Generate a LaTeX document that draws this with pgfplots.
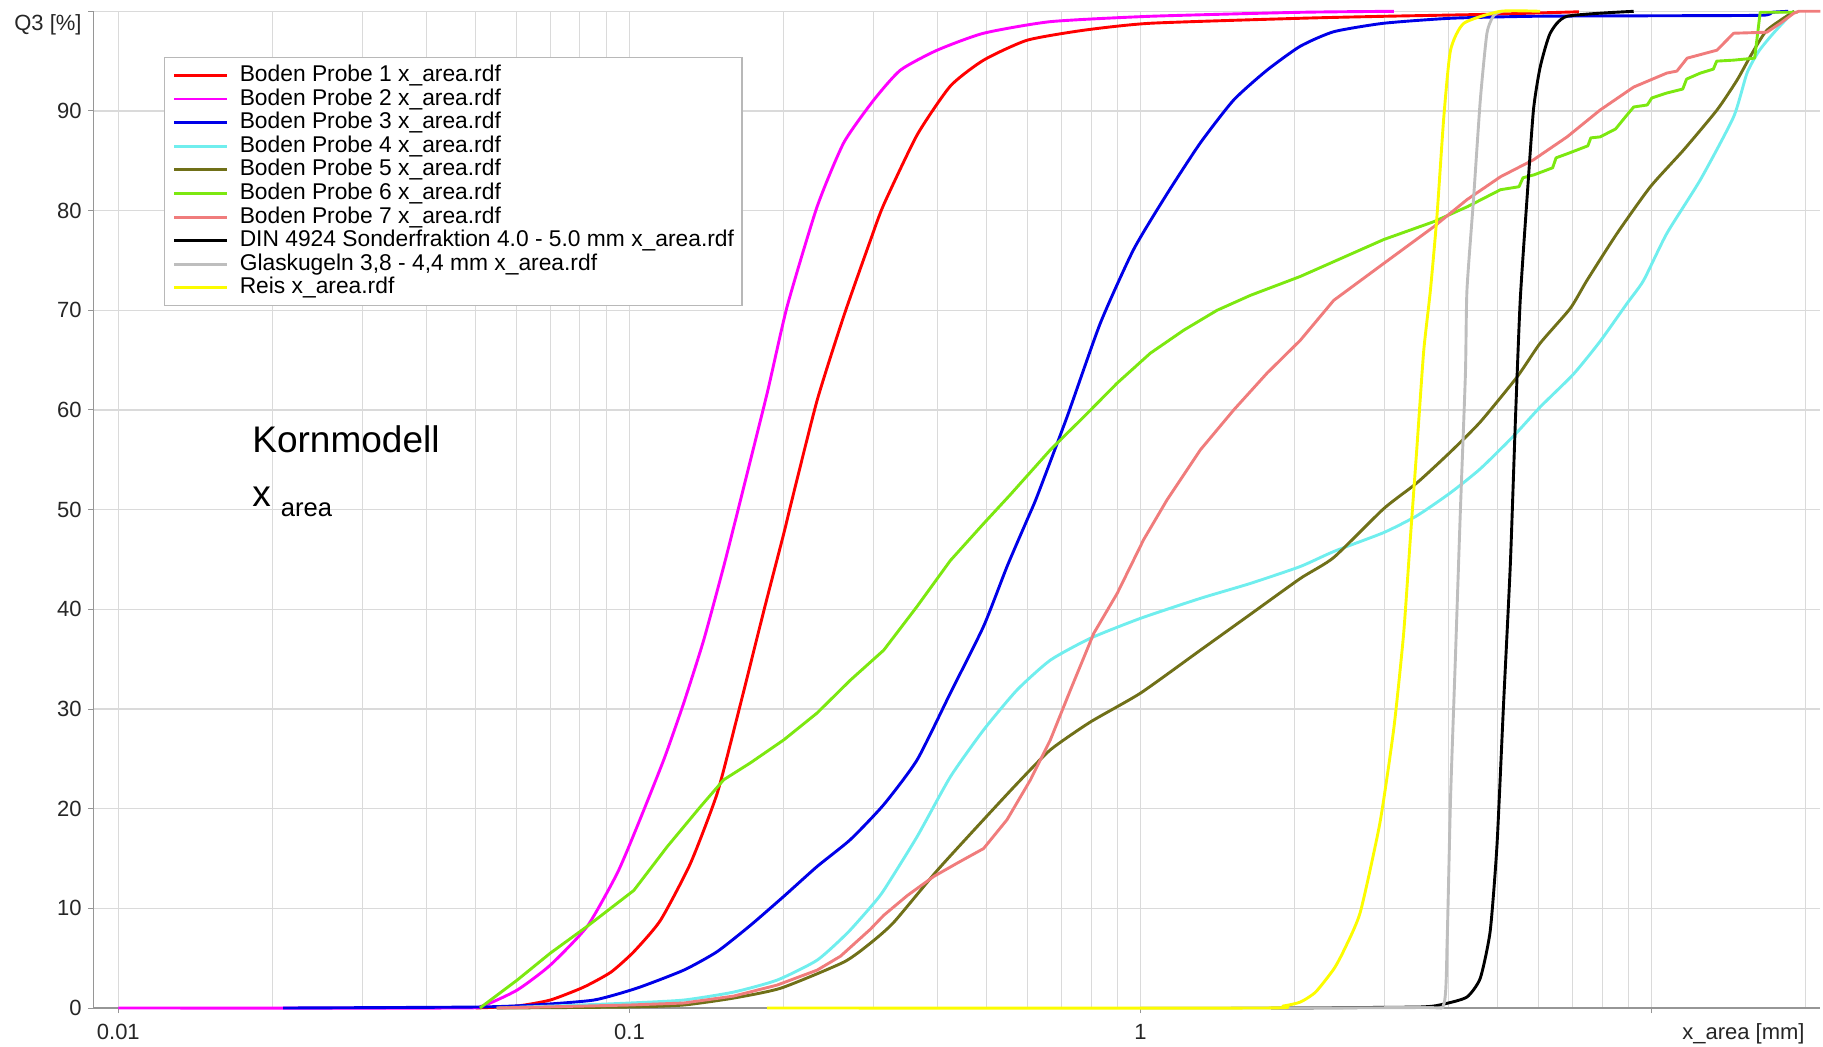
\documentclass[border=0pt]{standalone}
\usepackage{fontspec}
\setmainfont{Liberation Sans}
\usepackage{pgfplots}
\pgfplotsset{compat=1.18}

\definecolor{cP1}{RGB}{255,0,0}
\definecolor{cP2}{RGB}{255,0,255}
\definecolor{cP3}{RGB}{0,0,232}
\definecolor{cP4}{RGB}{112,238,238}
\definecolor{cP5}{RGB}{112,112,24}
\definecolor{cP6}{RGB}{124,232,16}
\definecolor{cP7}{RGB}{240,124,124}
\definecolor{cDIN}{RGB}{0,0,0}
\definecolor{cGlas}{RGB}{190,190,190}
\definecolor{cReis}{RGB}{252,252,0}
\definecolor{gridc}{RGB}{218,218,218}
\definecolor{axisc}{RGB}{150,150,150}

\begin{document}
\begin{tikzpicture}
\begin{axis}[
  xmode=log,
  scale only axis,
  width=863.5pt, height=498.35pt,
  xmin=0.008934, xmax=21.37,
  ymin=0, ymax=100,
  clip=false,
  axis x line*=bottom, axis y line*=left,
  axis line style={axisc, line width=0.6pt},
  xtick={0.01,0.1,1,10},
  xticklabels={0.01,0.1,1,{}},
  minor xtick={0.02,0.03,0.04,0.05,0.06,0.07,0.08,0.09,
               0.2,0.3,0.4,0.5,0.6,0.7,0.8,0.9,
               2,3,4,5,6,7,8,9,20},
  ytick={0,10,...,100},
  yticklabels={0,10,20,30,40,50,60,70,80,90,{}},
  grid=both,
  major grid style={gridc, line width=0.55pt},
  minor grid style={gridc, line width=0.55pt},
  tick align=outside,
  major tick length=2.5pt,
  minor tick length=0pt,
  tick style={axisc, line width=0.5pt},
  xticklabel style={font=\fontsize{11}{13}\selectfont, text=black!85, inner sep=0pt, anchor=base, yshift=-13.25pt},
  yticklabel style={font=\fontsize{11}{13}\selectfont, text=black!85, inner sep=0pt, anchor=east, xshift=-3.15pt},
  legend cell align=left,
  legend style={at={(0.0411,0.9541)}, anchor=north west,
    draw=black!28, fill=white, line width=0.6pt,
    font=\fontsize{11.4}{13.7}\selectfont,
    inner xsep=4pt, inner ysep=3.4pt,
    row sep=0.8pt, column sep=5.5pt,
    nodes={inner sep=0pt, text height=8.5pt, text depth=2.5pt}},
  legend image code/.code={\draw[#1] (0pt,0pt) -- (26.5pt,0pt);},
  every axis plot/.append style={line width=1.45pt, line join=round},
  curve/.style={smooth, tension=0.35},
]

% Boden Probe 1
\addplot[cP1, curve] coordinates {
(0.050,0) (0.0603,0.2) (0.070,0.8) (0.0814,2.1) (0.092,3.6) (0.102,5.65)
(0.115,8.8) (0.1316,14.5) (0.1484,21.5) (0.1625,29.2) (0.1833,39.9)
(0.2004,47.6) (0.208,51) (0.233,61) (0.2625,69.4) (0.296,77.0)
(0.3144,80.6) (0.3655,87.6) (0.4245,92.5) (0.493,95.1)
(0.60,97.1) (0.774,98.1) (1.045,98.8) (2.054,99.3) (3.0,99.5) (4.8,99.7)
(7.2,99.95)};
\addlegendentry{Boden Probe 1 x\_area.rdf}

% Boden Probe 2
\addplot[cP2, curve] coordinates {
(0.01,0) (0.045,0) (0.0515,0.2) (0.0603,1.8) (0.070,4.3) (0.0827,8.2)
(0.0946,13.5) (0.1035,18.2) (0.1167,24.9) (0.1277,30.6) (0.1397,36.9)
(0.1529,44.3) (0.165,51) (0.186,61.7) (0.2035,70.4) (0.2329,80.4)
(0.2625,86.8) (0.3006,91.1) (0.339,94.1) (0.40,96.1) (0.493,97.8)
(0.666,98.96) (1.045,99.5) (2.054,99.9) (3.13,100)};
\addlegendentry{Boden Probe 2 x\_area.rdf}

% Boden Probe 3
\addplot[cP3, curve] coordinates {
(0.021,0) (0.05,0.1) (0.065,0.3) (0.0852,0.8) (0.1035,2.0) (0.1277,3.8)
(0.1484,5.65) (0.1725,8.3) (0.2004,11.2) (0.2329,14.2) (0.2706,16.9)
(0.3144,20.4) (0.3655,24.9) (0.4245,31.6) (0.493,38.3)
(0.548,44.3) (0.60,49.0) (0.627,51.3) (0.718,59.3) (0.834,68.7)
(0.969,76.1) (1.127,81.7) (1.309,86.8) (1.521,91.1) (1.768,94.1)
(2.054,96.5) (2.387,97.95) (2.99,98.8) (4.04,99.3) (5.87,99.5)
(10,99.55) (16.4,99.6) (17.2,99.9) (18.5,100)};
\addlegendentry{Boden Probe 3 x\_area.rdf}

% Boden Probe 4
\addplot[cP4, curve] coordinates {
(0.055,0) (0.08,0.3) (0.10,0.5) (0.1277,0.8) (0.16,1.6) (0.1945,2.8)
(0.2329,4.8) (0.2666,7.5) (0.296,10.1) (0.3144,11.8) (0.3655,17.2)
(0.4245,23.2) (0.493,27.9) (0.573,31.9) (0.666,34.9) (0.798,37.1)
(1.0,39.1) (1.309,41.1) (1.64,42.6) (2.054,44.3) (2.387,45.8)
(2.99,47.7) (3.475,49.4) (4.04,51.7) (4.62,54.1) (5.37,57.4)
(6.05,60.3) (7.03,63.6) (7.93,66.9) (8.95,70.7) (9.64,73.0)
(10.7,77.7) (12.45,83.1) (14.46,89.4) (15.36,93.8) (16.2,96.0)
(17.3,97.8) (18.95,100)};
\addlegendentry{Boden Probe 4 x\_area.rdf}

% Boden Probe 5
\addplot[cP5, curve] coordinates {
(0.055,0) (0.10,0.1) (0.1277,0.3) (0.16,1.0) (0.198,2.0) (0.2625,4.6)
(0.296,6.5) (0.329,8.6) (0.40,13.8) (0.493,18.9) (0.573,22.5)
(0.666,25.9) (0.798,28.7) (1.0,31.6) (1.309,35.9) (1.64,39.5)
(2.054,43.1) (2.387,45.2) (2.99,50.1) (3.475,52.7) (4.04,55.8)
(4.62,58.8) (5.45,63.3) (6.05,66.7) (6.93,70.2) (7.47,73.0)
(8.55,77.7) (9.94,82.4) (11.55,86.1) (13.42,90.1) (14.69,93.1)
(15.6,95.5) (16.8,98.1) (19.0,100)};
\addlegendentry{Boden Probe 5 x\_area.rdf}

% Boden Probe 6 (stepped at the coarse end)
\addplot[cP6] coordinates {
(0.051,0) (0.0603,2.8) (0.070,5.5) (0.0827,8.2) (0.102,11.8) (0.1186,16.2)
(0.1377,20.2) (0.1529,22.9) (0.1725,24.6) (0.2004,26.9) (0.2329,29.6)
(0.2706,32.9) (0.3144,35.9) (0.3655,40.3) (0.4245,44.9) (0.493,48.6)
(0.556,51.5) (0.666,56.0) (0.774,59.3) (0.90,62.7) (1.045,65.7)
(1.214,68.0) (1.411,70.0) (1.64,71.5) (2.054,73.4) (2.99,77.1)
(3.75,78.9) (4.36,80.4) (5.06,82.1) (5.5,82.4) (5.6,83.3) (5.89,83.6)
(6.4,84.3) (6.5,85.3) (6.83,85.7) (7.5,86.5) (7.6,87.3) (7.93,87.4)
(8.5,88.2) (8.88,89.4) (9.22,90.4) (9.8,90.6) (10.0,91.3) (10.7,91.8)
(11.5,92.2) (11.7,93.2) (12.45,93.8) (13.2,94.2) (13.4,95.0) (14.46,95.1)
(15.9,95.3) (16.3,99.9) (19.3,99.9)};
\addlegendentry{Boden Probe 6 x\_area.rdf}

% Boden Probe 7 (stepped at the coarse end)
\addplot[cP7] coordinates {
(0.055,0) (0.10,0.3) (0.1277,0.5) (0.16,1.2) (0.1945,2.3) (0.2329,3.8)
(0.2588,5.2) (0.296,7.9) (0.3144,9.3) (0.35,11.3) (0.394,13.2)
(0.44,14.6) (0.493,16.0) (0.548,18.9)
(0.609,22.9) (0.666,26.9) (0.729,31.9) (0.81,37.6) (0.90,41.6)
(1.014,47.0) (1.127,51.0) (1.309,56.0) (1.521,60.0) (1.768,63.7)
(2.054,67.0) (2.387,71.0) (2.99,74.7) (3.75,78.4) (4.35,81.1)
(5.06,83.4) (5.87,85.1) (6.83,87.4) (7.93,90.1) (9.22,92.4)
(10.7,93.8) (11.2,94.0) (11.73,95.3) (13.42,96.1) (14.46,97.8)
(16.8,97.9) (17.85,98.8) (18.95,99.8) (19.4,100) (21.37,100)};
\addlegendentry{Boden Probe 7 x\_area.rdf}

% DIN 4924 Sonderfraktion
\addplot[cDIN, curve] coordinates {
(1.8,0) (3.5,0.1) (3.92,0.4) (4.35,1.1) (4.62,3.0) (4.83,7.7)
(4.98,16.3) (5.13,30.5) (5.29,44.6) (5.41,58.8) (5.53,71.0)
(5.70,81.1) (5.87,90.1) (6.05,94.4) (6.33,97.8) (6.83,99.5) (9.22,100)};
\addlegendentry{DIN 4924 Sonderfraktion 4.0 - 5.0 mm x\_area.rdf}

% Glaskugeln
\addplot[cGlas, curve] coordinates {
(1.0,0) (3.5,0.05) (3.92,0.4) (3.98,6.8) (4.04,21.0) (4.13,35.2)
(4.22,49.4) (4.32,63.6) (4.35,72.0) (4.48,81.1) (4.62,91.1)
(4.76,97.8) (4.91,99.6) (5.1,100)};
\addlegendentry{Glaskugeln 3,8 - 4,4 mm x\_area.rdf}

% Reis
\addplot[cReis, curve] coordinates {
(0.186,0) (1.7,0) (1.9,0.2) (2.054,0.6) (2.2,1.6) (2.387,3.9) (2.5,5.8)
(2.69,9.6) (2.94,18.6) (3.13,28.1) (3.27,37.5) (3.37,47.0) (3.475,56.5)
(3.58,65.9) (3.69,72.0) (3.80,79.4) (3.92,89.4) (4.04,96.1) (4.29,98.8)
(5.06,100) (6.05,100)};
\addlegendentry{Reis x\_area.rdf}

% annotations
\node[anchor=base west, inner sep=0pt, font=\fontsize{18.5}{22}\selectfont]
  at (rel axis cs:0.0919,0.557) {Kornmodell};
\node[anchor=base west, inner sep=0pt, font=\fontsize{18.5}{22}\selectfont]
  at (rel axis cs:0.0919,0.5028) {x\hspace{5pt}\raisebox{-5pt}{\fontsize{12.8}{15}\selectfont area}};
\node[anchor=east, inner sep=0pt, font=\fontsize{11}{13}\selectfont, text=black!85]
  at (rel axis cs:0,0.9865) [xshift=-5.65pt] {Q3 [\%]};
\node[anchor=base east, inner sep=0pt, font=\fontsize{11}{13}\selectfont, text=black!85]
  at (rel axis cs:0.9911,0) [yshift=-15.75pt] {x\_area [mm]};
\end{axis}
\pgfresetboundingbox
\path[use as bounding box] (-46.65pt,-19pt) rectangle (864.85pt,504pt);
\end{tikzpicture}
\end{document}
